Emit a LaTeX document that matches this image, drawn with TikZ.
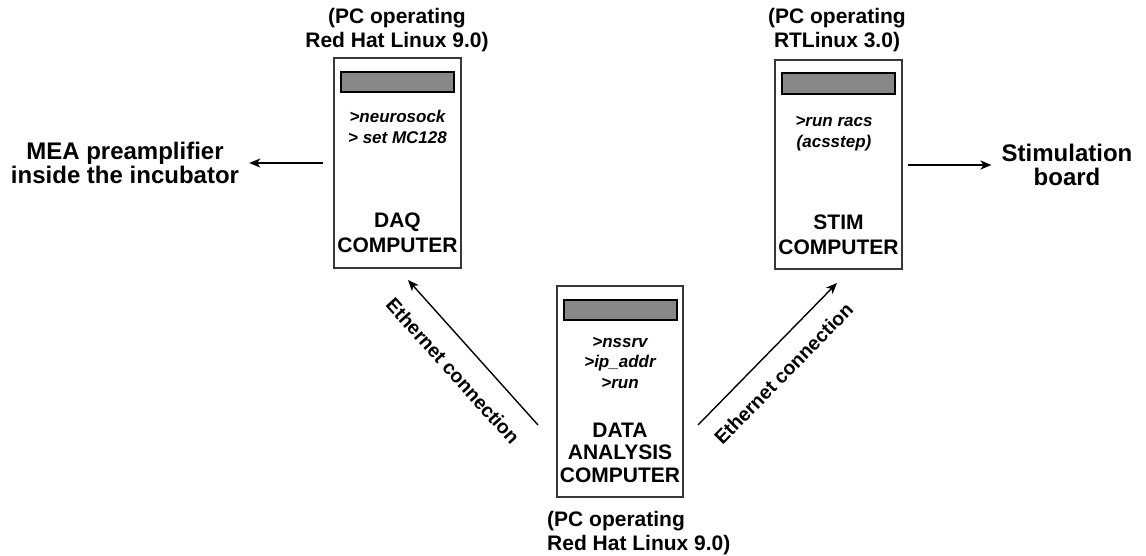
\documentclass[tikz,border=0pt]{standalone}
\usepackage{fontspec}
\setmainfont{Liberation Sans}
\usetikzlibrary{arrows.meta}
\begin{document}
\begin{tikzpicture}[x=1pt,y=-1pt,
 pcbox/.style={draw=black!78,line width=1.6pt,inner sep=0},
 screen/.style={draw=black,fill=black!47,line width=2pt,minimum width=113pt,minimum height=20.5pt,inner sep=0},
 hdr/.style={font=\fontsize{21}{24}\selectfont\bfseries,inner sep=0},
 cmd/.style={font=\fontsize{17}{20.5}\selectfont\bfseries\itshape,align=center,inner sep=0},
 ttl/.style={font=\fontsize{21}{25}\selectfont\bfseries,align=center,inner sep=0},
 ext/.style={font=\fontsize{24}{23.5}\selectfont\bfseries,align=center,inner sep=0},
 eth/.style={font=\fontsize{19.5}{20}\selectfont\bfseries,inner sep=0},
 arr/.style={-{Stealth[length=11pt,width=9pt,inset=3pt]},line width=1.8pt}]
\useasboundingbox (0,0) rectangle (1146,556);
% boxes
\node[pcbox,minimum width=127.5pt,minimum height=210.5pt] (daq) at (397.5,163) {};
\node[pcbox,minimum width=127.5pt,minimum height=209.5pt] (stim) at (838.5,164.5) {};
\node[pcbox,minimum width=126.5pt,minimum height=211.5pt] (ana) at (620,391.5) {};
% screens
\node[screen] (scrD) at (397.5,82) {};
\node[screen] (scrS) at (838,83.5) {};
\node[screen] (scrA) at (620,310) {};
% headers
\node[hdr,align=center] (hdrD) at (397,30) {(PC operating\\Red Hat Linux 9.0)};
\node[hdr,align=center] (hdrS) at (837,30) {(PC operating\\RTLinux 3.0)};
\node[hdr,align=left,anchor=west] (hdrA) at (547,533.5) {(PC operating\\Red Hat Linux 9.0)};
% commands
\node[cmd] (cmdD) at (397.5,127) {>neurosock\\> set MC128};
\node[cmd] (cmdS) at (834,133.5) {>run racs\\(acsstep)};
\node[cmd] (cmdA) at (620,362.5) {>nssrv\\>ip\_addr\\>run};
% titles
\node[ttl] (ttlD) at (397.5,233) {DAQ\\COMPUTER};
\node[ttl] (ttlS) at (838.5,235) {STIM\\COMPUTER};
\node[ttl,font=\fontsize{21}{22.5}\selectfont\bfseries] (ttlA) at (620,452.5) {DATA\\ANALYSIS\\COMPUTER};
% external
\node[ext] (mea) at (125,163) {MEA preamplifier\\inside the incubator};
\node[ext] (board) at (1067,165) {Stimulation\\board};
% arrows
\draw[arr,shorten <=10pt,shorten >=10pt] (daq.west) -- (mea.east);
\draw[arr,shorten <=5pt,shorten >=10pt] (stim.east |- board.west) -- (board.west);
\coordinate (eL1) at (538,425);
\coordinate (eL2) at (408,280);
\coordinate (eR1) at (698,425);
\coordinate (eR2) at (837,283);
\draw[arr,line width=1.4pt] (eL1) -- (eL2);
\draw[arr,line width=1.4pt] (eR1) -- (eR2);
\node[eth,rotate=-48] (lblL) at (453,371) {Ethernet connection};
\node[eth,rotate=45.6] (lblR) at (783.5,373.5) {Ethernet connection};
\end{tikzpicture}
\end{document}
